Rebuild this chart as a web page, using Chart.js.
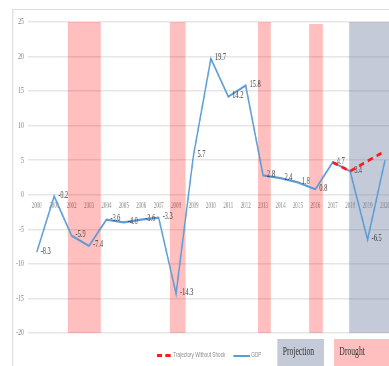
<!DOCTYPE html>
<html>
<head>
<meta charset="utf-8">
<script src="https://cdn.jsdelivr.net/npm/chart.js@4/dist/chart.umd.min.js"></script>
<style>
  html, body { margin: 0; padding: 0; overflow: hidden; background: #fff; width: 389px; height: 366px; }
  #wrap { position: absolute; left: 0; top: 0; width: 600px; height: 366px; transform: scaleX(0.6667); transform-origin: 0 0; }
  #frame { position: absolute; left: 18px; top: 9px; right: -20px; bottom: -20px; border-top: 1px solid #dedede; border-left: 2px solid #e2e2e2; }
  canvas { position: absolute; left: 0; top: 0; }
  .lg { position: absolute; font-family: "Liberation Sans", Arial, sans-serif; font-size: 7px; color: #8a8a8a; line-height: 8px; }
  .dash { position: absolute; height: 3px; background: #ff1a1a; }
  .gline { position: absolute; height: 2px; background: #5b9bd5; }
  .box { position: absolute; top: 339px; height: 40px; font-family: "Liberation Serif", "Times New Roman", serif; font-size: 11.5px; color: #333; }
  .box span { position: absolute; left: 8px; top: 6px; }
</style>
</head>
<body>
<div id="wrap">
  <div id="frame"></div>
  <canvas id="c" width="600" height="366"></canvas>
  <div class="dash" style="left:235px; top:354px; width:8px;"></div>
  <div class="dash" style="left:248px; top:354px; width:8px;"></div>
  <div class="lg" style="left:260px; top:351px;">Trajectory Without Shock</div>
  <div class="gline" style="left:350px; top:355px; width:25px;"></div>
  <div class="lg" style="left:377px; top:351px;">GDP</div>
  <div class="box" style="left:416px; width:70px; background:#c5cad8;"><span>Projection</span></div>
  <div class="box" style="left:501px; width:120px; background:#ffbfbf;"><span>Drought</span></div>
</div>
<script>
// Years on the horizontal axis
const years = [2000, 2001, 2002, 2003, 2004, 2005, 2006, 2007, 2008, 2009, 2010,
               2011, 2012, 2013, 2014, 2015, 2016, 2017, 2018, 2019, 2020];
// Real GDP growth, %
const gdp = [-8.3, -0.2, -5.9, -7.4, -3.6, -4.0, -3.6, -3.3, -14.3, 5.7, 19.7,
             14.2, 15.8, 2.8, 2.4, 1.8, 0.8, 4.7, 3.4, -6.5, 5.0];
// Growth path without the shock (2017 onward)
const trajectoryYears = [2017, 2018, 2019, 2020];
const trajectory = [4.7, 3.4, 4.9, 6.3];
// Drought periods (shaded spans on the year axis)
const droughtStart = [2001.78, 2007.64, 2012.70, 2015.63];
const droughtEnd   = [2003.68, 2008.56, 2013.45, 2016.44];
const droughtTop   = [25, 25, 25, 24.7];
// Projection period
const projectionStart = 2017.93;
const projectionEnd = 2020.5;
// Value axis ticks
const yTicks = [-20, -15, -10, -5, 0, 5, 10, 15, 20, 25];

const yMin = yTicks[0], yMax = yTicks[yTicks.length - 1];
const serif = '"Liberation Serif", "Times New Roman", serif';

function span(a, b, top, color) {
  return {
    type: 'line',
    data: [{ x: a, y: top }, { x: b, y: top }],
    borderWidth: 0,
    pointRadius: 0,
    backgroundColor: color,
    fill: { value: yMin },
    order: 10
  };
}

const datasets = [];
datasets.push(span(projectionStart, projectionEnd, yMax, 'rgba(107,122,157,0.40)'));
droughtStart.forEach((s, i) => datasets.push(span(s, droughtEnd[i], droughtTop[i], 'rgba(255,0,0,0.25)')));
datasets.push({
  label: 'GDP',
  data: years.map((y, i) => ({ x: y, y: gdp[i] })),
  borderColor: '#5b9bd5',
  borderWidth: 2.2,
  pointRadius: 0,
  tension: 0,
  fill: false,
  order: 2,
  valueLabels: true
});
datasets.push({
  label: 'Trajectory Without Shock',
  data: trajectoryYears.map((y, i) => ({ x: y, y: trajectory[i] })),
  borderColor: '#ff1a1a',
  borderWidth: 3,
  borderDash: [8, 6],
  pointRadius: 0,
  tension: 0,
  fill: false,
  order: 1
});

// Value labels printed to the right of each GDP point
const valueLabels = {
  id: 'valueLabels',
  afterDatasetsDraw(chart) {
    const ctx = chart.ctx;
    chart.data.datasets.forEach((ds, di) => {
      if (!ds.valueLabels) return;
      const meta = chart.getDatasetMeta(di);
      ctx.save();
      ctx.font = '9.5px ' + serif;
      ctx.fillStyle = '#3a3a3a';
      ctx.textAlign = 'left';
      ctx.textBaseline = 'middle';
      meta.data.forEach((pt, i) => {
        ctx.fillText(ds.data[i].y.toFixed(1), pt.x + 6, pt.y - 1);
      });
      ctx.restore();
    });
  }
};

new Chart(document.getElementById('c'), {
  type: 'line',
  data: { datasets },
  plugins: [valueLabels],
  options: {
    responsive: false,
    animation: false,
    devicePixelRatio: 1,
    layout: { padding: { top: 22, bottom: 33, left: 0, right: 9.5 } },
    plugins: { legend: { display: false }, tooltip: { enabled: false } },
    scales: {
      x: {
        type: 'linear',
        position: { y: 0 },
        min: years[0] - 0.5,
        max: years[years.length - 1] + 0.5,
        afterBuildTicks(scale) { scale.ticks = years.map(v => ({ value: v })); },
        ticks: {
          autoSkip: false,
          maxRotation: 0,
          padding: 7,
          color: '#858585',
          font: { family: serif, size: 7.5 },
          callback: v => String(v)
        },
        grid: { display: false, drawTicks: false },
        border: { display: false }
      },
      y: {
        min: yMin,
        max: yMax,
        afterBuildTicks(scale) { scale.ticks = yTicks.map(v => ({ value: v })); },
        afterFit(scale) { scale.width = 42; },
        ticks: {
          padding: 6,
          color: '#7f7f7f',
          font: { family: serif, size: 9 }
        },
        grid: { color: '#e6e6e6', lineWidth: 1.5, drawTicks: false },
        border: { display: false }
      }
    }
  }
});
</script>
</body>
</html>
